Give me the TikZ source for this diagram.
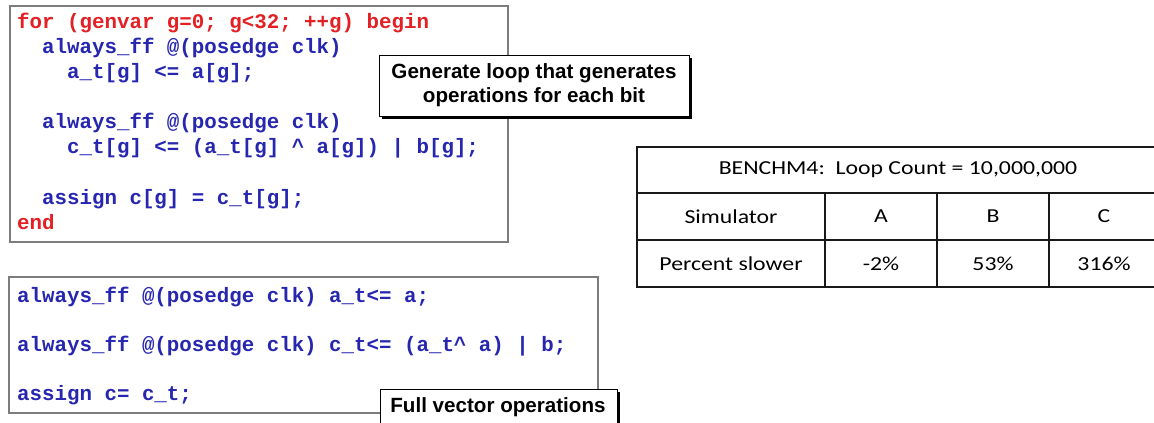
\documentclass[tikz,border=0pt]{standalone}
\usepackage{fontspec}
\newfontfamily\codefont{Liberation Mono}[BoldFont={Liberation Mono Bold}]
\newfontfamily\notefont{Liberation Sans}
\newfontfamily\tabfont[FakeStretch=1.2]{Carlito}
\definecolor{kwred}{RGB}{228,32,36}
\definecolor{codeblue}{RGB}{38,38,176}
\definecolor{framegray}{RGB}{125,125,125}
\tikzset{
  codeline/.style={anchor=base west, inner sep=0pt, font=\codefont\bfseries\fontsize{20.8}{25}\selectfont},
  red code/.style={codeline, text=kwred},
  blue code/.style={codeline, text=codeblue},
  codeframe/.style={draw=framegray, line width=1.6pt},
  callout/.style={draw=black, line width=0.9pt, fill=white},
  callout shadow/.style={fill=black},
  notetext/.style={font=\notefont\bfseries\fontsize{20.6}{24}\selectfont, align=center, inner sep=0pt},
  tabrule/.style={draw=black!90, line width=1.8pt},
  tabtext/.style={font=\tabfont\fontsize{19.8}{23}\selectfont, inner sep=0pt}
}
\begin{document}
\begin{tikzpicture}[x=1pt, y=-1pt]
\useasboundingbox (0,0) rectangle (1154,423);
\clip (0,0) rectangle (1154,423);
\fill[white] (0,0) rectangle (1154,423);

% generate-loop version
\draw[codeframe] (10,6) rectangle (508,242);
\node[red code]  (l1) at (17,28)  {for (genvar g=0; g<32; ++g) begin};
\node[blue code] (l2) at (17,53)  {\ \ always\_ff @(posedge clk)};
\node[blue code] (l3) at (17,78)  {\ \ \ \ a\_t[g] <= a[g];};
\node[blue code] (l4) at (17,128.5) {\ \ always\_ff @(posedge clk)};
\node[blue code] (l5) at (17,153.5) {\ \ \ \ c\_t[g] <= (a\_t[g] \textasciicircum\ a[g]) | b[g];};
\node[blue code] (l6) at (17,204) {\ \ assign c[g] = c\_t[g];};
\node[red code]  (l7) at (17,229) {end};

% full-vector version
\draw[codeframe] (9,277) rectangle (598,413);
\node[blue code] (v1) at (17,302.5) {always\_ff @(posedge clk) a\_t<= a;};
\node[blue code] (v2) at (17,351.5) {always\_ff @(posedge clk) c\_t<= (a\_t\textasciicircum\ a) | b;};
\node[blue code] (v3) at (17,400)   {assign c= c\_t;};

% callouts
\fill[callout shadow] (382,58) rectangle (692,119);
\draw[callout] (379,55) rectangle (689,116);
\node[notetext] (genlabel) at (534,85.5) {Generate loop that generates\\operations for each bit};

\fill[callout shadow] (383,392) rectangle (620,430);
\draw[callout] (380,389) rectangle (617,427);
\node[notetext] (veclabel) at (498,407) {Full vector operations};

% benchmark table
\draw[tabrule] (637,147) rectangle (1160,287);
\draw[tabrule] (637,193) -- (1160,193);
\draw[tabrule] (637,240) -- (1160,240);
\draw[tabrule] (825,193) -- (825,287);
\draw[tabrule] (937,193) -- (937,287);
\draw[tabrule] (1049,193) -- (1049,287);
\node[tabtext] (title) at (898,170) {BENCHM4:\ \ Loop Count = 10,000,000};
\node[tabtext] (h0) at (731,216.5) {Simulator};
\node[tabtext] (h1) at (881,216.5) {A};
\node[tabtext] (h2) at (993,216.5) {B};
\node[tabtext] (h3) at (1104,216.5) {C};
\node[tabtext] (r0) at (731,263.5) {Percent slower};
\node[tabtext] (r1) at (881,263.5) {-2\%};
\node[tabtext] (r2) at (993,263.5) {53\%};
\node[tabtext] (r3) at (1104,263.5) {316\%};
\end{tikzpicture}
\end{document}
